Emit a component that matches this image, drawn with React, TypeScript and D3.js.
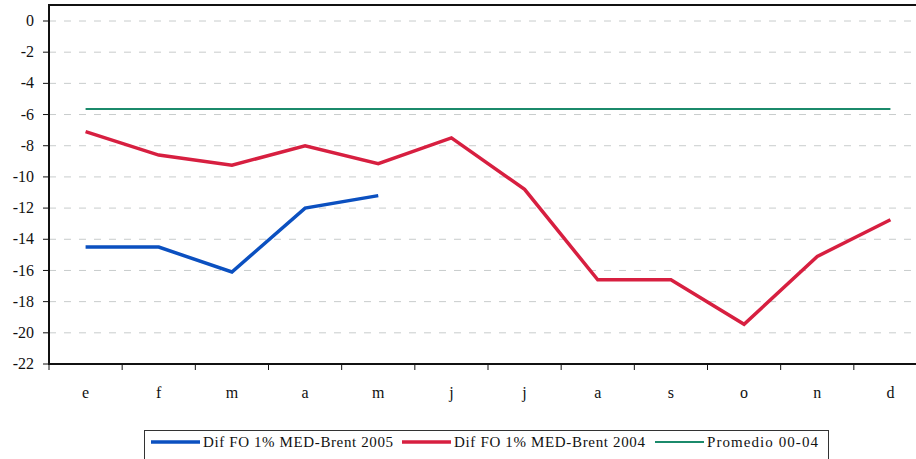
import React from "react";
import * as d3 from "d3";

const months = ["e", "f", "m", "a", "m", "j", "j", "a", "s", "o", "n", "d"];
const dif2005 = [-14.5, -14.5, -16.1, -12.0, -11.2];
const dif2004 = [-7.1, -8.6, -9.25, -8.0, -9.15, -7.5, -10.8, -16.6, -16.6, -19.45, -15.1, -12.75];
const promedio = -5.65;
const yTicks = [0, -2, -4, -6, -8, -10, -12, -14, -16, -18, -20, -22];

const W = 916;
const H = 459;

const legendItems = [
  { label: "Dif FO 1% MED-Brent 2005", color: "#0b50c0", w: 3.5, x0: 151, len: 190 },
  { label: "Dif FO 1% MED-Brent 2004", color: "#d71f40", w: 3.5, x0: 402, len: 191 },
  { label: "Promedio 00-04", color: "#1b8a6b", w: 2, x0: 655, len: 111 },
];

export default function App() {
  const left = 49, right = 927, top = 21, bottom = 364;

  const x = d3.scaleBand<number>().domain(d3.range(12)).range([left, right]);
  const y = d3.scaleLinear().domain([-22, 0]).range([bottom, top]);
  const cx = (i: number) => (x(i) as number) + x.bandwidth() / 2;
  const line = d3.line<number>().x((_, i) => cx(i)).y(d => y(d));

  return (
    <div style={{ position: "absolute", left: 0, top: 0, fontFamily: "Times New Roman" }}>
      <svg width={W} height={H} fontFamily="Times New Roman" fontSize={16} fill="#111"
        style={{ display: "block", background: "white", fontFamily: "Times New Roman" }}>
        {/* gridlines */}
        {yTicks.filter(t => t > -22).map(t => (
          <line key={"g" + t} x1={left} x2={right} y1={y(t)} y2={y(t)}
            stroke="#c8cccc" strokeWidth={1} strokeDasharray="7,8" />
        ))}
        {/* top border */}
        <line x1={left} x2={right} y1={5} y2={5} stroke="#111" strokeWidth={2} />

        {/* y axis */}
        {yTicks.map(t => (
          <g key={"y" + t} transform={`translate(${left},${y(t)})`}>
            <line x1={-6} x2={0} stroke="#111" />
            <text x={-15} dy="0.32em" textAnchor="end">{String(t)}</text>
          </g>
        ))}
        <line x1={left} x2={left} y1={4} y2={bottom + 1} stroke="#111" strokeWidth={2} />

        {/* x axis */}
        {d3.range(13).map(i => (
          <line key={"xt" + i} x1={left + i * x.bandwidth()} x2={left + i * x.bandwidth()}
            y1={bottom} y2={bottom + 6} stroke="#111" />
        ))}
        {months.map((m, i) => (
          <text key={"x" + i} x={cx(i)} y={bottom + 34} textAnchor="middle">{m}</text>
        ))}
        <line x1={left - 1} x2={right} y1={bottom} y2={bottom} stroke="#111" strokeWidth={2} />

        {/* series */}
        <line x1={cx(0)} x2={cx(11)} y1={y(promedio)} y2={y(promedio)} stroke="#1b8a6b" strokeWidth={2} />
        <path d={line(dif2004) ?? ""} fill="none" stroke="#d71f40" strokeWidth={3.5} />
        <path d={line(dif2005) ?? ""} fill="none" stroke="#0b50c0" strokeWidth={3.5} />

        {/* legend */}
        <rect x={144.5} y={430.5} width={684} height={40} fill="white" stroke="#333" />
        {legendItems.map(d => (
          <g key={d.label}>
            <line x1={d.x0} x2={d.x0 + 49} y1={442} y2={442} stroke={d.color} strokeWidth={d.w} />
            <text x={d.x0 + 52} y={447} fontSize={15} textLength={d.len} lengthAdjust="spacing">{d.label}</text>
          </g>
        ))}
      </svg>
    </div>
  );
}
